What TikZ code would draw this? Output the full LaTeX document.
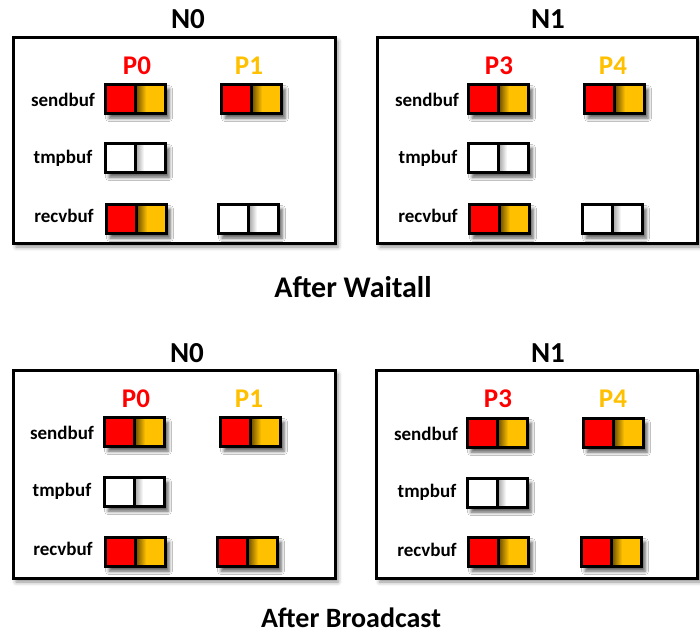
\documentclass[tikz,border=0pt]{standalone}
\usepackage{fontspec}
\setmainfont{Carlito}
\usetikzlibrary{shadows.blur}
\definecolor{redc}{RGB}{255,0,0}
\definecolor{orc}{RGB}{255,192,0}
\definecolor{orshade}{RGB}{110,80,0}
\tikzset{
  nodebox/.style={draw=black, line width=3pt, fill=white, rectangle, inner sep=0pt,
    blur shadow={shadow xshift=3pt, shadow yshift=-4pt, shadow blur radius=4pt, shadow opacity=45}},
  bufshadow/.style={blur shadow={shadow xshift=4pt, shadow yshift=-5pt, shadow blur radius=3.5pt, shadow opacity=65}},
  cell/.style={rectangle, inner sep=0pt, minimum width=30pt, minimum height=29pt, line width=3pt, draw=black},
  title/.style={font=\fontsize{29}{31}\selectfont\bfseries, anchor=base},
  caption/.style={font=\fontsize{30}{32}\selectfont\bfseries, anchor=base, inner sep=0pt},
  proc/.style={font=\fontsize{27}{29}\selectfont\bfseries, anchor=base},
  buflabel/.style={font=\fontsize{19}{21}\selectfont\bfseries, anchor=base},
}
% #1 name, #2 x, #3 y (top-left)
\newcommand\fullbuf[3]{%
  \path[bufshadow] (#2,#3) rectangle ++(60,29);
  \fill[redc] (#2,#3) rectangle ++(30,29);
  \fill[orc] (#2+30,#3) rectangle ++(30,29);
  \shade[left color=orshade, right color=orc] (#2+31,#3+1) rectangle ++(10,27);
  \node[cell] (#1-a) at (#2+15,#3+14.5) {};
  \node[cell] (#1-b) at (#2+45,#3+14.5) {};
}
\newcommand\emptybuf[3]{%
  \path[bufshadow] (#2,#3) rectangle ++(60,29);
  \fill[white] (#2,#3) rectangle ++(60,29);
  \shade[left color=black!35, right color=white] (#2+31,#3+1) rectangle ++(8,27);
  \node[cell] (#1-a) at (#2+15,#3+14.5) {};
  \node[cell] (#1-b) at (#2+45,#3+14.5) {};
}
\begin{document}
\begin{tikzpicture}[x=1pt,y=-1pt]
\useasboundingbox (0,0) rectangle (700,632);
% ===== top panel =====
\node[nodebox, minimum width=322pt, minimum height=206pt] (tn0) at (174,140) {};
\node[nodebox, minimum width=320pt, minimum height=206pt] (tn1) at (537,140) {};
\node[title] (tn0t) at (188,28) {N0};
\node[title] (tn1t) at (548,28) {N1};
\node[proc, text=redc] (tp0) at (137,74) {P0};
\node[proc, text=orc] (tp1) at (249,74) {P1};
\node[proc, text=redc] (tp3) at (499,74) {P3};
\node[proc, text=orc] (tp4) at (613,74) {P4};
\node[buflabel] (tsl0) at (63,106) {sendbuf};
\node[buflabel] (ttl0) at (63,163) {tmpbuf};
\node[buflabel] (trl0) at (64,222) {recvbuf};
\node[buflabel] (tsl1) at (427,106) {sendbuf};
\node[buflabel] (ttl1) at (428,163) {tmpbuf};
\node[buflabel] (trl1) at (428,222) {recvbuf};
\fullbuf{ts0}{105}{84}
\fullbuf{ts1}{221}{84}
\emptybuf{tt0}{105}{143}
\fullbuf{tr0}{106}{204}
\emptybuf{tr1}{218}{204}
\fullbuf{ts3}{468}{84}
\fullbuf{ts4}{584}{84}
\emptybuf{tt3}{468}{143}
\fullbuf{tr3}{469}{204}
\emptybuf{tr4}{582}{204}
\node[caption] (cap1) at (353,297) {After Waitall};
% ===== bottom panel =====
\node[nodebox, minimum width=322pt, minimum height=208pt] (bn0) at (174,474) {};
\node[nodebox, minimum width=321pt, minimum height=208pt] (bn1) at (537,474) {};
\node[title] (bn0t) at (187,362) {N0};
\node[title] (bn1t) at (548,362) {N1};
\node[proc, text=redc] (bp0) at (136,407) {P0};
\node[proc, text=orc] (bp1) at (249,407) {P1};
\node[proc, text=redc] (bp3) at (498,407) {P3};
\node[proc, text=orc] (bp4) at (613,407) {P4};
\node[buflabel] (bsl0) at (62,439) {sendbuf};
\node[buflabel] (btl0) at (62,496) {tmpbuf};
\node[buflabel] (brl0) at (63,555) {recvbuf};
\node[buflabel] (bsl1) at (426,440) {sendbuf};
\node[buflabel] (btl1) at (427,497) {tmpbuf};
\node[buflabel] (brl1) at (427,556) {recvbuf};
\fullbuf{bs0}{104}{417}
\fullbuf{bs1}{220}{417}
\emptybuf{bt0}{104}{477}
\fullbuf{br0}{105}{537}
\fullbuf{br1}{217}{537}
\fullbuf{bs3}{467}{418}
\fullbuf{bs4}{583}{418}
\emptybuf{bt3}{467}{478}
\fullbuf{br3}{468}{537}
\fullbuf{br4}{581}{537}
\node[caption, font=\fontsize{28}{30}\selectfont\bfseries] (cap2) at (351,627) {After Broadcast};
\end{tikzpicture}
\end{document}
